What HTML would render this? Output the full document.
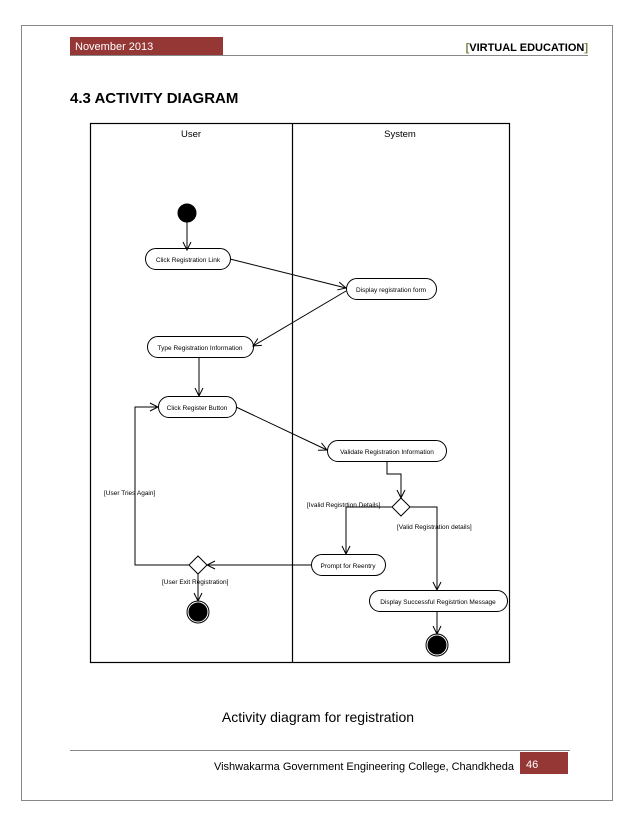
<!DOCTYPE html>
<html><head><meta charset="utf-8"><style>
body{margin:0;background:#fff;}
svg{display:block;}
text{font-family:"Liberation Sans",sans-serif;}
</style></head><body>
<svg width="638" height="826" viewBox="0 0 638 826" xmlns="http://www.w3.org/2000/svg">
<defs>
<marker id="a" markerWidth="10" markerHeight="10" refX="9" refY="5" orient="auto" markerUnits="userSpaceOnUse">
<path d="M1,1 L9,5 L1,9" fill="none" stroke="#000" stroke-width="1"/>
</marker>
</defs>
<rect x="21.5" y="25.5" width="591" height="775" fill="none" stroke="#888" stroke-width="1"/>
<rect x="70" y="37" width="153" height="18" fill="#953735"/>
<text x="75" y="50" font-size="11" fill="#fff">November 2013</text>
<line x1="70" y1="55.5" x2="588" y2="55.5" stroke="#888"/>
<text x="588" y="51" font-size="11" font-weight="bold" text-anchor="end"><tspan fill="#7f7f3f">[</tspan>VIRTUAL EDUCATION<tspan fill="#7f7f3f">]</tspan></text>
<text x="70" y="103" font-size="15" font-weight="bold">4.3 ACTIVITY DIAGRAM</text>

<rect x="90.5" y="123.5" width="419" height="539" fill="none" stroke="#000" stroke-width="1.2"/>
<line x1="292.5" y1="123" x2="292.5" y2="662" stroke="#000" stroke-width="1.2"/>
<text x="191" y="137" font-size="9.5" text-anchor="middle">User</text>
<text x="400" y="137" font-size="9.5" text-anchor="middle">System</text>

<g fill="none" stroke="#000" stroke-width="1">
<circle cx="187" cy="213" r="9" fill="#000"/>
<line x1="187" y1="222" x2="187" y2="250" marker-end="url(#a)"/>
<rect x="145.5" y="248.5" width="85" height="21" rx="10.5"/>
<rect x="346.5" y="278.5" width="90" height="21" rx="10.5"/>
<rect x="147.5" y="336.5" width="106" height="21" rx="10.5"/>
<rect x="158.5" y="396.5" width="78" height="21" rx="10.5"/>
<rect x="327.5" y="440.5" width="119" height="21" rx="10.5"/>
<rect x="311.5" y="554.5" width="74" height="21" rx="10.5"/>
<rect x="369.5" y="590.5" width="138" height="21" rx="10.5"/>
<path d="M401,498 L410,507 L401,516 L392,507 Z"/>
<path d="M198,556 L207,565 L198,574 L189,565 Z"/>
<circle cx="198" cy="612" r="9" fill="#000"/><circle cx="198" cy="612" r="11"/>
<circle cx="437" cy="645" r="9" fill="#000"/><circle cx="437" cy="645" r="11"/>
<line x1="230" y1="259" x2="346" y2="288" marker-end="url(#a)"/>
<line x1="346" y1="291" x2="253" y2="346" marker-end="url(#a)"/>
<line x1="199" y1="357" x2="199" y2="396" marker-end="url(#a)"/>
<line x1="236" y1="407" x2="327" y2="450" marker-end="url(#a)"/>
<polyline points="387,461 387,474 401,474 401,498" marker-end="url(#a)"/>
<polyline points="392,507 346,507 346,554" marker-end="url(#a)"/>
<polyline points="410,507 437,507 437,590" marker-end="url(#a)"/>
<line x1="311" y1="565" x2="207" y2="565" marker-end="url(#a)"/>
<polyline points="189,565 135,565 135,407 158,407" marker-end="url(#a)"/>
<line x1="198" y1="574" x2="198" y2="601" marker-end="url(#a)"/>
<line x1="437" y1="611" x2="437" y2="634" marker-end="url(#a)"/>
</g>
<g font-size="6.5" text-anchor="middle">
<text x="188" y="262">Click Registration Link</text>
<text x="391" y="292">Display registration form</text>
<text x="200" y="350">Type Registration Information</text>
<text x="197" y="410">Click Register Button</text>
<text x="387" y="454">Validate Registration Information</text>
<text x="348" y="568">Prompt for Reentry</text>
<text x="438" y="604">Display Successful Registrtion Message</text>
</g>
<g font-size="6.5">
<text x="104" y="495">[User Tries Again]</text>
<text x="307" y="507">[Ivalid Registrtion Details]</text>
<text x="397" y="529">[Valid Registration details]</text>
<text x="162" y="584">[User Exit Registration]</text>
</g>
<text x="318" y="722" font-size="14" text-anchor="middle">Activity diagram for registration</text>
<line x1="70" y1="750.5" x2="570" y2="750.5" stroke="#888"/>
<text x="514" y="770" font-size="11" text-anchor="end">Vishwakarma Government Engineering College, Chandkheda</text>
<rect x="520" y="752" width="48" height="22" fill="#953735"/>
<text x="526" y="768" font-size="11" fill="#fff">46</text>
</svg>
</body></html>
